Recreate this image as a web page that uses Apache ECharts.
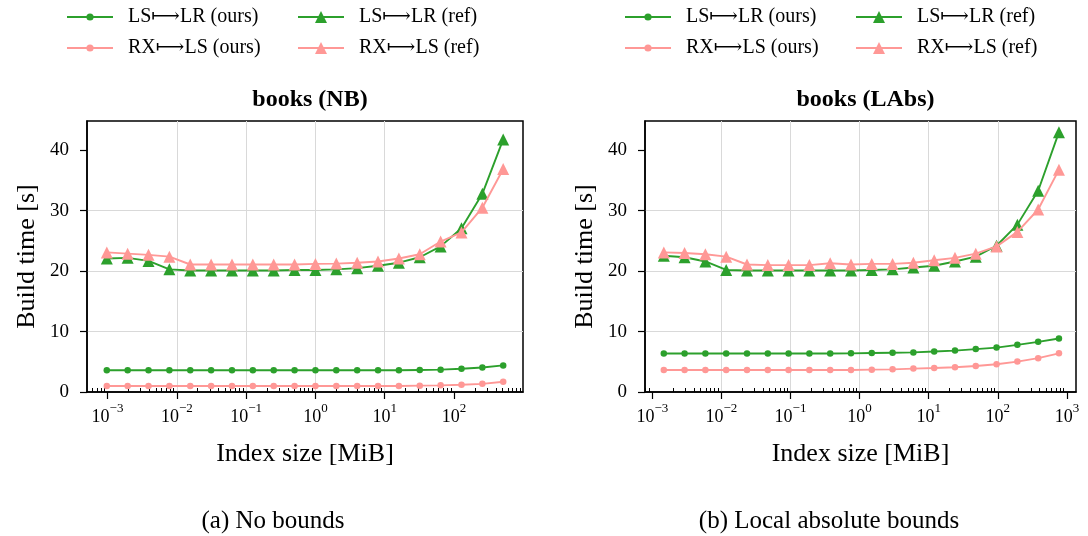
<!DOCTYPE html>
<html><head><meta charset="utf-8">
<script src="https://cdn.jsdelivr.net/npm/echarts@6/dist/echarts.min.js"></script>
<style>html,body{margin:0;padding:0;background:#fff}#c{width:1088px;height:536px}</style>
</head><body><div id="c"></div>
<script>
// ---- data ----
const sizesNB = [0.0009765625, 0.001953125, 0.00390625, 0.0078125, 0.015625, 0.03125, 0.0625, 0.125, 0.25, 0.5, 1, 2, 4, 8, 16, 32, 64, 128, 256, 512];
const sizesLAbs = [0.00146484375, 0.0029296875, 0.005859375, 0.01171875, 0.0234375, 0.046875, 0.09375, 0.1875, 0.375, 0.75, 1.5, 3, 6, 12, 24, 48, 96, 192, 384, 768];

const nbLsOurs = [3.6, 3.6, 3.6, 3.6, 3.6, 3.6, 3.6, 3.6, 3.6, 3.6, 3.6, 3.6, 3.6, 3.6, 3.6, 3.65, 3.7, 3.85, 4.05, 4.4];
const nbRxOurs = [1.0, 1.0, 1.0, 1.0, 1.0, 1.0, 1.0, 1.0, 1.0, 1.0, 1.0, 1.0, 1.0, 1.0, 1.0, 1.05, 1.1, 1.2, 1.35, 1.7];
const nbLsRef = [22.1, 22.2, 21.7, 20.3, 20.1, 20.1, 20.1, 20.1, 20.1, 20.2, 20.2, 20.3, 20.5, 20.9, 21.4, 22.3, 24.1, 27.1, 32.8, 41.8];
const nbRxRef = [23.1, 22.9, 22.7, 22.4, 21.1, 21.1, 21.1, 21.1, 21.1, 21.1, 21.2, 21.25, 21.4, 21.6, 22.1, 22.8, 24.9, 26.4, 30.5, 36.9];

const labsLsOurs = [6.36, 6.36, 6.36, 6.36, 6.36, 6.36, 6.36, 6.36, 6.36, 6.4, 6.45, 6.5, 6.55, 6.7, 6.85, 7.1, 7.35, 7.8, 8.3, 8.85];
const labsRxOurs = [3.65, 3.65, 3.65, 3.65, 3.65, 3.65, 3.65, 3.65, 3.65, 3.65, 3.7, 3.75, 3.87, 3.98, 4.1, 4.3, 4.6, 5.03, 5.6, 6.4];
const labsLsRef = [22.55, 22.3, 21.6, 20.2, 20.1, 20.1, 20.1, 20.1, 20.1, 20.1, 20.2, 20.3, 20.6, 20.9, 21.6, 22.4, 24.2, 27.7, 33.3, 43.0];
const labsRxRef = [23.1, 23.0, 22.8, 22.4, 21.1, 21.0, 21.0, 21.0, 21.3, 21.1, 21.2, 21.2, 21.4, 21.8, 22.2, 22.9, 24.1, 26.5, 30.2, 36.8];

const xMajorNB = [0.001, 0.01, 0.1, 1, 10, 100];
const xMajorLAbs = [0.001, 0.01, 0.1, 1, 10, 100, 1000];
const yTicks = [0, 10, 20, 30, 40];

const seriesNames = ['LS⟼LR (ours)', 'RX⟼LS (ours)', 'LS⟼LR (ref)', 'RX⟼LS (ref)'];
const panelTitles = ['books (NB)', 'books (LAbs)'];
const captions = ['(a) No bounds', '(b) Local absolute bounds'];
const xName = 'Index size [MiB]';
const yName = 'Build time [s]';

// ---- styling ----
const FONT = "'Liberation Serif', 'DejaVu Serif', serif";
const GREEN = '#2ca02c', PINK = '#ff9896';
const colors = [GREEN, PINK, GREEN, PINK];
const symbols = ['circle', 'circle', 'triangle', 'triangle'];
const symSizes = [6.5, 6.5, 12, 12];

const grids = [
  { left: 87, top: 121, width: 436, height: 271 },
  { left: 645, top: 121, width: 431, height: 271 }
];
const xRange = [[0.000506, 988], [0.000783, 1355]];
const yMax = 44.85;

function minorTicks(lo, hi) {
  const out = [];
  for (let e = -5; e <= 4; e++) for (let k = 2; k <= 9; k++) {
    const v = Number((k * Math.pow(10, e)).toPrecision(6));
    if (v >= lo && v <= hi) out.push(v);
  }
  return out;
}
function supLabel(v) {
  const e = Math.round(Math.log10(v));
  return '{b|10}{s|' + (e < 0 ? '\u2212' + (-e) : String(e)) + '}';
}

const option = {
  animation: false,
  backgroundColor: '#fff',
  textStyle: { fontFamily: FONT },
  title: [],
  legend: [],
  grid: grids.map(g => Object.assign({ show: true, borderColor: '#000', borderWidth: 1.5, containLabel: false }, g)),
  xAxis: [],
  yAxis: [],
  series: []
};

const majors = [xMajorNB, xMajorLAbs];
for (let p = 0; p < 2; p++) {
  option.xAxis.push({
    type: 'log', gridIndex: p, min: xRange[p][0], max: xRange[p][1],
    name: xName, nameLocation: 'middle', nameGap: 49,
    nameTextStyle: { fontSize: 26, color: '#000', fontFamily: FONT },
    axisLine: { show: true, onZero: false, lineStyle: { color: '#000', width: 1.5 } },
    axisTick: { show: true, customValues: majors[p], length: 7, lineStyle: { color: '#000', width: 1.2 } },
    axisLabel: {
      show: true, customValues: majors[p], margin: 10, formatter: supLabel,
      rich: {
        b: { fontSize: 18, fontFamily: FONT, color: '#000', padding: [6, 0, 0, 0], verticalAlign: 'bottom' },
        s: { fontSize: 13, fontFamily: FONT, color: '#000', verticalAlign: 'top' }
      }
    },
    splitLine: { show: true, showMinLine: false, showMaxLine: false, lineStyle: { color: '#d9d9d9', width: 1 } },
    minorTick: { show: false }
  });
  option.xAxis.push({
    type: 'log', gridIndex: p, min: xRange[p][0], max: xRange[p][1],
    axisLine: { show: false },
    axisTick: { show: true, customValues: minorTicks(xRange[p][0], xRange[p][1]), length: 4, lineStyle: { color: '#000', width: 1 } },
    axisLabel: { show: false },
    splitLine: { show: false }
  });
  option.yAxis.push({
    type: 'value', gridIndex: p, min: 0, max: yMax,
    name: yName, nameLocation: 'middle', nameGap: 47,
    nameTextStyle: { fontSize: 26, color: '#000', fontFamily: FONT },
    axisLine: { show: true, onZero: false, lineStyle: { color: '#000', width: 1.5 } },
    axisTick: { show: true, customValues: yTicks, length: 7, lineStyle: { color: '#000', width: 1.2 } },
    axisLabel: { show: true, customValues: yTicks, margin: 18, fontSize: 19, color: '#000', fontFamily: FONT },
    splitLine: { show: true, showMinLine: false, showMaxLine: false, lineStyle: { color: '#d9d9d9', width: 1 } }
  });
  option.title.push({
    text: panelTitles[p], left: grids[p].left + grids[p].width / 2, top: 83, textAlign: 'center',
    textStyle: { fontSize: 24, fontWeight: 'bold', color: '#000', fontFamily: FONT }
  });
  option.title.push({
    text: captions[p], left: p === 0 ? 268 : 824, top: 504, textAlign: 'center',
    textStyle: { fontSize: 25, fontWeight: 'normal', color: '#000', fontFamily: FONT }
  });
}

const panelData = [
  [nbLsOurs, nbRxOurs, nbLsRef, nbRxRef],
  [labsLsOurs, labsRxOurs, labsLsRef, labsRxRef]
];
const panelX = [sizesNB, sizesLAbs];
for (let p = 0; p < 2; p++) {
  for (let s = 0; s < 4; s++) {
    option.series.push({
      type: 'line', name: seriesNames[s], xAxisIndex: p * 2, yAxisIndex: p,
      data: panelX[p].map((x, i) => [x, panelData[p][s][i]]),
      symbol: symbols[s], symbolSize: symSizes[s], showAllSymbol: true,
      lineStyle: { color: colors[s], width: 1.9 },
      itemStyle: { color: colors[s] },
      emphasis: { disabled: true }, silent: true, z: 2 + s
    });
  }
}

// legends: each item placed separately (2 columns x 2 rows per panel)
const legendCols = [[66, 297], [624, 855]];
const rowCenters = [15, 46];
// legend order: column 0 = ours, column 1 = ref; row 0 = LS, row 1 = RX
const legendItems = [
  { name: seriesNames[0], col: 0, row: 0, tri: false },
  { name: seriesNames[1], col: 0, row: 1, tri: false },
  { name: seriesNames[2], col: 1, row: 0, tri: true },
  { name: seriesNames[3], col: 1, row: 1, tri: true }
];
for (let p = 0; p < 2; p++) {
  legendItems.forEach(it => {
    const ih = it.tri ? 15 : 9;
    option.legend.push({
      data: [it.name], left: legendCols[p][it.col], top: rowCenters[it.row] - 9,
      orient: 'horizontal', padding: 0, itemWidth: 46, itemHeight: ih,
      selectedMode: false, formatter: '  {name}',
      textStyle: { fontSize: 20, color: '#000', fontFamily: FONT, height: 22, lineHeight: 22 }
    });
  });
}

const chart = echarts.init(document.getElementById('c'), null, { renderer: 'canvas' });
chart.setOption(option);
</script>
</body></html>
